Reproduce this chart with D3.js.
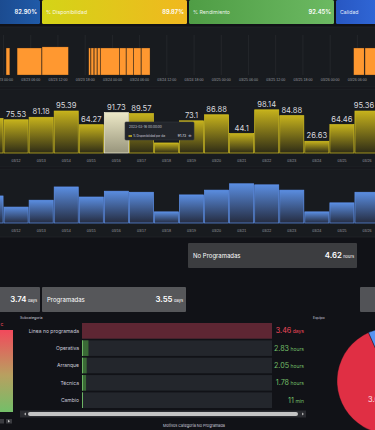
<!DOCTYPE html>
<html>
<head>
<meta charset="utf-8">
<script src="https://cdn.jsdelivr.net/npm/d3@7"></script>
<style>
html, body { margin: 0; padding: 0; background: #111217; overflow: hidden; }
svg { display: block; font-family: Inter, "DejaVu Sans", sans-serif; }
</style>
</head>
<body>
<svg id="dash" width="375" height="430"></svg>
<script>
// stat panels
var statLabels = ["", "% Disponibilidad", "% Rendimiento", "Calidad"];
var statValues = ["82.90%", "89.87%", "92.45%", ""];

// running periods (hours from 2023-03-23 00:00)
var runStart = [0.67, 3.1, 8.6, 18.9, 19.4, 20.1, 20.8, 21.5, 25.7, 27.2, 28.8, 30.5, 77.3, 79.8];
var runEnd   = [1.5, 8.5, 14.4, 19.3, 20.0, 20.7, 21.4, 25.6, 27.1, 28.7, 30.4, 32.4, 79.6, 83.5];
var runLevel = [1, 1, 1.04, 1, 1, 1, 1, 1, 1, 1, 1, 1, 1, 1];

// daily bars
var days = ["03/11", "03/12", "03/13", "03/14", "03/15", "03/16", "03/17", "03/18",
            "03/19", "03/20", "03/21", "03/22", "03/23", "03/24", "03/25", "03/26"];
var disponibilidad = [78.4, 75.53, 81.18, 95.39, 64.27, 91.73, 89.57, 22.8,
                      73.1, 86.88, 44.1, 98.14, 84.88, 26.63, 64.46, 95.36];
var rendimiento = [51, 30, 43, 68, 49, 60, 58, 21, 53, 62, 74, 72, 62, 21, 38, 58];
var hovered = "03/16";

// parada stats
var paradaLabels = ["", "Programadas", "No Programadas"];
var paradaValues = [3.74, 3.55, 4.62];
var paradaUnits = ["days", "days", "hours"];

// subcategoria (hours)
var subcats = ["Linea no programada", "Operativa", "Arranque", "Técnica", "Cambio"];
var subHours = [83.04, 2.83, 2.05, 1.78, 0.183];
var subText = ["3.46", "2.83", "2.05", "1.78", "11"];
var subUnits = ["days", "hours", "hours", "hours", "min"];

// equipo pie (hours)
var equipos = ["A", "B", "C"];
var equipoHours = [87.1, 3.5, 2.7];
var equipoColors = ["#e02f44", "#5794f2", "#73bf69"];

var svg = d3.select("#dash");
var defs = svg.append("defs");

function grad(id, x2, y2, stops) {
  var g = defs.append("linearGradient").attr("id", id)
      .attr("x1", 0).attr("y1", 0).attr("x2", x2).attr("y2", y2);
  stops.forEach(function(s) {
    g.append("stop").attr("offset", s[0]).attr("stop-color", s[1]);
  });
}
grad("gBlueL", 1, 0, [[0, "#1b4a8e"], [1, "#1f5aa8"]]);
grad("gYel", 1, 0, [[0, "#d4d417"], [1, "#f0b81f"]]);
grad("gGrn", 1, 0, [[0, "#4f9d45"], [1, "#6cb962"]]);
grad("gBlueR", 1, 0, [[0, "#2857c2"], [1, "#3068d8"]]);
grad("gBarY", 0, 1, [[0, "#c6b21c"], [1, "#2e2c16"]]);
grad("gBarH", 0, 1, [[0, "#ece8c6"], [1, "#98957c"]]);
grad("gBarB", 0, 1, [[0, "#5a8de0"], [1, "#252c40"]]);
grad("gRG", 0, 1, [[0, "#f2495c"], [0.55, "#b8a060"], [1, "#73bf69"]]);

// ---- stat row
var statX = [-4, 42, 189, 336];
var statW = [44, 145, 145, 45];
var statFill = ["url(#gBlueL)", "url(#gYel)", "url(#gGrn)", "url(#gBlueR)"];
var stats = svg.append("g");
statLabels.forEach(function(l, i) {
  stats.append("rect").attr("x", statX[i]).attr("y", 0)
      .attr("width", statW[i]).attr("height", 24).attr("rx", 1.5)
      .attr("fill", statFill[i]);
  stats.append("text").attr("x", statX[i] + 4).attr("y", 13.5)
      .attr("font-size", 5.2).attr("fill", "#fff").attr("fill-opacity", 0.9).text(l);
  stats.append("text").attr("x", statX[i] + statW[i] - 3).attr("y", 14)
      .attr("text-anchor", "end").attr("font-size", 5.8).attr("font-weight", 600)
      .attr("fill", "#fff").text(statValues[i]);
});

// ---- panels
var panels = [[0, 27, 375, 60], [0, 89, 375, 78], [0, 169, 375, 68]];
panels.forEach(function(p) {
  svg.append("rect").attr("x", p[0] - 1).attr("y", p[1]).attr("width", p[2] + 2).attr("height", p[3])
      .attr("fill", "#181b1f").attr("stroke", "#222429").attr("stroke-width", 0.8);
});

// ---- timeline
var t0 = new Date(2023, 2, 23, 0, 0);
var xt = d3.scaleTime()
    .domain([d3.timeMinute.offset(t0, -40), d3.timeHour.offset(t0, 82.67)])
    .range([0, 375]);
var yt = d3.scaleLinear().domain([0, 1]).range([75, 48]);
var hrs = function(h) { return new Date(+t0 + h * 3600000); };

var tl = svg.append("g");
tl.append("g").attr("transform", "translate(0,75)")
    .call(d3.axisBottom(xt).ticks(d3.timeHour.every(6)).tickSize(-40)
      .tickFormat(d3.timeFormat("%m/%d %H:%M")))
    .call(function(g) {
      g.select(".domain").remove();
      g.selectAll(".tick line").attr("stroke", "#ffffff").attr("stroke-opacity", 0.05);
      g.selectAll(".tick text").attr("fill", "#9a9ba0").attr("font-size", 3.6).attr("dy", 3.2);
    });
tl.selectAll("rect.run").data(runStart).enter().append("rect")
    .attr("class", "run")
    .attr("x", function(d) { return xt(hrs(d)); })
    .attr("width", function(d, i) { return xt(hrs(runEnd[i])) - xt(hrs(d)); })
    .attr("y", function(d, i) { return yt(runLevel[i]); })
    .attr("height", function(d, i) { return yt(0) - yt(runLevel[i]); })
    .attr("fill", "#ff9830").attr("stroke", "#3a2a1a").attr("stroke-width", 0.3);

// ---- daily bar charts
var xb = d3.scaleBand().domain(days).range([-21, 379]).paddingInner(0.04).paddingOuter(0);
var yy = d3.scaleLinear().domain([0, 100]).range([153, 109]);
var yb = d3.scaleLinear().domain([0, 100]).range([223, 170]);

function dayAxis(y) {
  svg.append("g").attr("transform", "translate(0," + y + ")")
      .call(d3.axisBottom(xb).tickSize(0))
      .call(function(g) {
        g.select(".domain").remove();
        g.selectAll(".tick text").attr("fill", "#9a9ba0").attr("font-size", 3.6).attr("dy", 4.5);
      });
}

// tooltip box (hovered day), labels under it stay hidden
var tipBox = {x: 125, y: 122, w: 69, h: 18};

var yel = svg.append("g");
yel.selectAll("rect").data(disponibilidad).enter().append("rect")
    .attr("x", function(d, i) { return xb(days[i]); })
    .attr("width", xb.bandwidth())
    .attr("y", function(d) { return yy(d); })
    .attr("height", function(d) { return yy(0) - yy(d); })
    .attr("fill", function(d, i) { return days[i] === hovered ? "url(#gBarH)" : "url(#gBarY)"; })
    .attr("stroke", function(d, i) { return days[i] === hovered ? "#f4f0d2" : "#d4c021"; })
    .attr("stroke-width", 0.7);
yel.selectAll("text").data(disponibilidad.filter(function(d, i) { return xb(days[i]) + xb.bandwidth() / 2 > 0; }))
  .enter().append("text")
    .attr("x", function(d) { var i = disponibilidad.indexOf(d); return xb(days[i]) + xb.bandwidth() / 2; })
    .attr("y", function(d) { return yy(d) - 3; })
    .attr("text-anchor", "middle").attr("font-size", 7.6)
    .attr("fill", "#d8d9de").text(function(d) { return d; })
    .each(function() {
      var b = this.getBBox();
      if (b.x + b.width > 374.5) d3.select(this).attr("x", +d3.select(this).attr("x") - (b.x + b.width - 374.5));
      var inTip = b.x > tipBox.x && b.x + b.width < tipBox.x + tipBox.w &&
                  b.y > tipBox.y && b.y < tipBox.y + tipBox.h;
      if (inTip) d3.select(this).remove();
    });
dayAxis(154);

var blu = svg.append("g");
blu.selectAll("rect").data(rendimiento).enter().append("rect")
    .attr("x", function(d, i) { return xb(days[i]); })
    .attr("width", xb.bandwidth())
    .attr("y", function(d) { return yb(d); })
    .attr("height", function(d) { return yb(0) - yb(d); })
    .attr("fill", "url(#gBarB)").attr("stroke", "#5f93ee").attr("stroke-width", 0.7);
dayAxis(224);

// tooltip
var tip = svg.append("g").attr("transform", "translate(" + tipBox.x + "," + tipBox.y + ")");
tip.append("rect").attr("width", tipBox.w).attr("height", tipBox.h).attr("rx", 1)
    .attr("fill", "#22252b").attr("stroke", "#34373d").attr("stroke-width", 0.6);
tip.append("text").attr("x", 4).attr("y", 6).attr("font-size", 3.2).attr("fill", "#ccccdc")
    .text("2023-03-16 00:00:00");
tip.append("rect").attr("x", 3.5).attr("y", 13.3).attr("width", 3.5).attr("height", 1.4).attr("fill", "#e0c51e");
tip.append("text").attr("x", 8).attr("y", 14.8).attr("font-size", 2.8).attr("fill", "#ccccdc")
    .text("% Disponibilidad por dia");
tip.append("text").attr("x", 61).attr("y", 14.8).attr("text-anchor", "end")
    .attr("font-size", 3.2).attr("font-weight", 600).attr("fill", "#ccccdc").text("91.73");
tip.append("text").attr("x", 63).attr("y", 15).attr("font-size", 4.5).attr("fill", "#ccccdc").text("≑");

// ---- parada stat boxes
var pX = [-4, 42, 188];
var pY = [287, 287, 243];
var pW = [44, 144, 169];
var pFill = ["#525357", "#56575a", "#3c3d40"];
paradaValues.forEach(function(v, i) {
  var g = svg.append("g").attr("transform", "translate(" + pX[i] + "," + pY[i] + ")");
  g.append("rect").attr("width", pW[i]).attr("height", 25).attr("rx", 1).attr("fill", pFill[i]);
  g.append("text").attr("x", 5).attr("y", 14.5).attr("font-size", 6).attr("fill", "#fff").text(paradaLabels[i]);
  var t = g.append("text").attr("x", pW[i] - 3).attr("y", 15).attr("text-anchor", "end").attr("fill", "#fff");
  t.append("tspan").attr("font-size", 7.8).attr("font-weight", 600).text(v.toFixed(2));
  t.append("tspan").attr("font-size", 4).attr("dx", 1.5).text(paradaUnits[i]);
});
svg.append("rect").attr("x", 360).attr("y", 287).attr("width", 20).attr("height", 25).attr("rx", 1).attr("fill", "#525357");

// ---- subcategoria bar gauge
svg.append("text").attr("x", 20).attr("y", 319).attr("font-size", 3.6).attr("fill", "#ccccdc").text("Subcategoría");
svg.append("text").attr("x", 313).attr("y", 319).attr("font-size", 3.6).attr("fill", "#ccccdc").text("Equipo");

var yg = d3.scaleBand().domain(subcats).range([323, 408]).paddingInner(0.1).paddingOuter(0);
var xg = d3.scaleLinear().domain([0, d3.max(subHours)]).range([82, 272]);
var gauge = svg.append("g");
gauge.selectAll("rect.bg").data(subcats).enter().append("rect")
    .attr("class", "bg").attr("x", xg(0)).attr("width", xg.range()[1] - xg(0))
    .attr("y", function(d) { return yg(d); }).attr("height", yg.bandwidth())
    .attr("fill", "#23262c");
gauge.selectAll("rect.val").data(subHours).enter().append("rect")
    .attr("class", "val").attr("x", xg(0))
    .attr("width", function(d) { return Math.max(0.8, xg(d) - xg(0)); })
    .attr("y", function(d, i) { return yg(subcats[i]); }).attr("height", yg.bandwidth())
    .attr("fill", function(d, i) { return i === 0 ? "#5e2633" : "#3a6a36"; });
gauge.selectAll("rect.edge").data(subHours.slice(1)).enter().append("rect")
    .attr("class", "edge").attr("x", xg(0)).attr("width", 0.9)
    .attr("y", function(d, i) { return yg(subcats[i + 1]); }).attr("height", yg.bandwidth())
    .attr("fill", "#73bf69");
gauge.selectAll("text.lab").data(subcats).enter().append("text")
    .attr("class", "lab").attr("x", 79).attr("y", function(d) { return yg(d) + yg.bandwidth() / 2 + 1.8; })
    .attr("text-anchor", "end").attr("font-size", 5).attr("fill", "#ccccdc").text(function(d) { return d; });
subText.forEach(function(s, i) {
  var t = gauge.append("text").attr("x", 304).attr("y", yg(subcats[i]) + yg.bandwidth() / 2 + 2.5)
      .attr("text-anchor", "end").attr("fill", i === 0 ? "#f2495c" : "#73bf69");
  t.append("tspan").attr("font-size", 7.2).text(s);
  t.append("tspan").attr("font-size", 5).attr("dx", 1.5).text(subUnits[i]);
});

// scrollbar
svg.append("rect").attr("x", 20).attr("y", 410.5).attr("width", 286).attr("height", 7).attr("fill", "#2a2b30");
svg.append("rect").attr("x", 28).attr("y", 412).attr("width", 270).attr("height", 4).attr("rx", 2).attr("fill", "#c4c4c4");
svg.append("path").attr("d", "M24,414 l2,-1.6 v3.2z").attr("fill", "#b0b0b0");
svg.append("path").attr("d", "M304,414 l-2,-1.6 v3.2z").attr("fill", "#b0b0b0");
svg.append("text").attr("x", 194).attr("y", 427).attr("text-anchor", "middle")
    .attr("font-size", 3.8).attr("fill", "#ccccdc").text("Motivos Categoría No Programada");

// left gradient panel
svg.append("text").attr("x", 0.5).attr("y", 326).attr("font-size", 5).attr("fill", "#f2495c").text("c");
svg.append("rect").attr("x", -2).attr("y", 330).attr("width", 15).attr("height", 82).attr("fill", "url(#gRG)");
svg.append("rect").attr("x", 0).attr("y", 419).attr("width", 4).attr("height", 4.5).attr("fill", "#3a3b40");
svg.append("rect").attr("x", 6).attr("y", 419).attr("width", 6).attr("height", 4.5).attr("fill", "#3a3b40");
svg.append("path").attr("d", "M8,419.8 l2,1.4 l-2,1.4z").attr("fill", "#c8c8c8");

// ---- equipo pie
var pie = d3.pie().sort(null).value(function(d) { return d; });
var arc = d3.arc().innerRadius(0).outerRadius(53);
var pg = svg.append("g").attr("transform", "translate(390,381)");
pg.selectAll("path").data(pie(equipoHours)).enter().append("path")
    .attr("d", arc).attr("fill", function(d, i) { return equipoColors[i]; })
    .attr("stroke", "#111217").attr("stroke-width", 0.4);
pg.append("text").attr("x", -22).attr("y", 21).attr("font-size", 7.5).attr("fill", "#ffe0e4")
    .text("3.63 days");
</script>
</body>
</html>
